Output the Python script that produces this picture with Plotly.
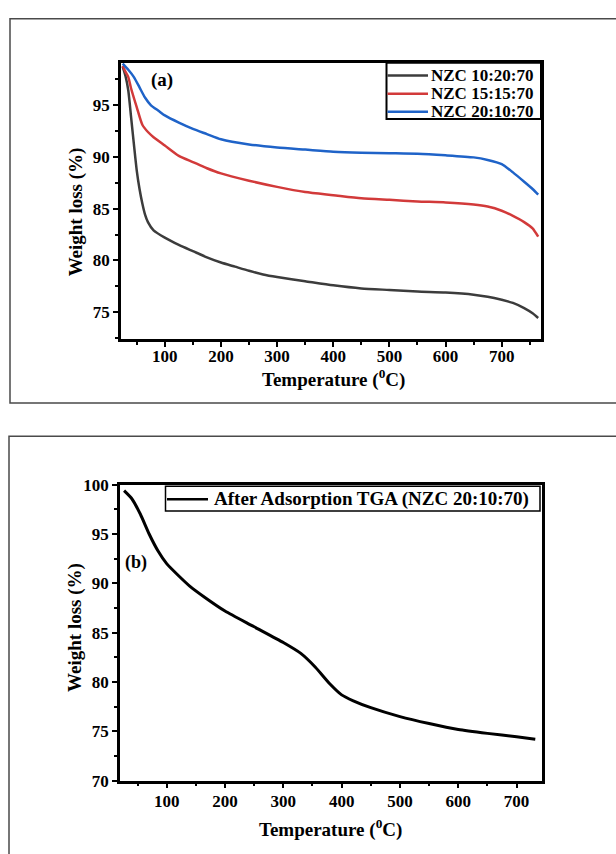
import plotly.graph_objects as go

# ---------------- data ----------------
# (a) TGA of the as-prepared composites
temp_1020 = [25, 30, 35, 40, 45, 50, 55, 60, 65, 70, 80, 100, 125, 150, 175, 200, 225, 250,
             275, 300, 350, 400, 450, 500, 550, 600, 650, 675, 700, 720, 740, 755, 765]
wl_1020 = [98.7, 97.8, 96.4, 93.8, 91.2, 88.7, 86.9, 85.5, 84.4, 83.7, 82.9, 82.2, 81.5, 80.9,
           80.3, 79.8, 79.4, 79.0, 78.65, 78.4, 78.0, 77.6, 77.3, 77.15, 77.0, 76.9, 76.7, 76.5,
           76.2, 75.9, 75.4, 74.9, 74.45]

temp_1515 = [25, 30, 35, 40, 50, 60, 70, 80, 100, 125, 150, 175, 200, 250, 300, 350, 400, 450,
             500, 550, 600, 650, 675, 700, 720, 740, 755, 765]
wl_1515 = [98.8, 98.2, 97.7, 96.6, 94.8, 93.1, 92.4, 91.9, 91.1, 90.1, 89.5, 88.9, 88.4, 87.7,
           87.1, 86.6, 86.3, 86.0, 85.85, 85.7, 85.6, 85.4, 85.2, 84.8, 84.3, 83.7, 83.1, 82.3]

temp_2010 = [25, 35, 45, 55, 65, 75, 90, 100, 125, 150, 175, 200, 250, 300, 350, 400, 450, 500,
             550, 600, 650, 675, 700, 720, 740, 755, 765]
wl_2010 = [99.0, 98.4, 97.7, 96.7, 95.7, 95.0, 94.4, 94.0, 93.3, 92.7, 92.2, 91.7, 91.2, 90.9,
           90.7, 90.5, 90.4, 90.35, 90.3, 90.15, 89.95, 89.7, 89.3, 88.5, 87.6, 86.9, 86.35]

labels_a = ["NZC 10:20:70", "NZC 15:15:70", "NZC 20:10:70"]
colors_a = ["#3c3c3c", "#d23a3a", "#1f63c8"]

# (b) TGA after adsorption, NZC 20:10:70
temp_after = [27, 40, 55, 70, 85, 100, 120, 140, 165, 200, 250, 300, 330, 355, 380, 400, 420,
              450, 500, 550, 600, 650, 700, 732]
wl_after = [99.4, 98.6, 97.0, 95.0, 93.3, 92.0, 90.8, 89.7, 88.6, 87.2, 85.6, 84.0, 82.9, 81.5,
            79.8, 78.7, 78.1, 77.4, 76.5, 75.8, 75.2, 74.8, 74.45, 74.2]
label_b = "After Adsorption TGA (NZC 20:10:70)"

x_title = "Temperature (<sup>0</sup>C)"
y_title = "Weight loss (%)"

# ---------------- layout helpers ----------------
W, H = 616, 854
FONT = "Liberation Serif, Times New Roman, serif"


def fx(p):
    return p / W


def fy(p):
    return 1 - p / H


fig = go.Figure()

series_a = [(temp_1020, wl_1020), (temp_1515, wl_1515), (temp_2010, wl_2010)]
for (t, w), name, c in zip(series_a, labels_a, colors_a):
    fig.add_trace(go.Scatter(x=t, y=w, mode="lines", name=name, showlegend=False,
                             line=dict(color=c, width=2.5, shape="spline", smoothing=0.6),
                             xaxis="x", yaxis="y"))

fig.add_trace(go.Scatter(x=temp_after, y=wl_after, mode="lines", name=label_b, showlegend=False,
                         line=dict(color="#000000", width=3, shape="spline", smoothing=0.6),
                         xaxis="x2", yaxis="y2"))

tickfont = dict(family=FONT, size=17, color="black", weight="bold")
axis_common = dict(showline=True, mirror=True, linecolor="black", linewidth=2.5,
                   ticks="outside", ticklen=5, tickwidth=2, tickcolor="black",
                   showgrid=False, zeroline=False, tickfont=tickfont)
minor_x = dict(ticks="outside", ticklen=3, tickwidth=1.5, tickcolor="black")
minor_y = dict(ticks="outside", ticklen=3, tickwidth=1.5, tickcolor="black",
               tickvals=[72.5, 77.5, 82.5, 87.5, 92.5, 97.5])

fig.update_layout(
    width=W, height=H,
    margin=dict(l=0, r=0, t=0, b=0),
    paper_bgcolor="white", plot_bgcolor="white",
    xaxis=dict(domain=[fx(121), fx(541)], anchor="y", range=[22, 770],
               tickvals=[100, 200, 300, 400, 500, 600, 700], ticklabelstandoff=-5,
               minor=dict(tickvals=[50, 150, 250, 350, 450, 550, 650, 750], **minor_x),
               **axis_common),
    yaxis=dict(domain=[fy(337.7), fy(55)], anchor="x", range=[72.4, 99.08],
               tickvals=[75, 80, 85, 90, 95], minor=minor_y, **axis_common),
    xaxis2=dict(domain=[fx(120), fx(541.7)], anchor="y2", range=[20, 743],
                tickvals=[100, 200, 300, 400, 500, 600, 700], ticklabelstandoff=-2,
                minor=dict(tickvals=[50, 150, 250, 350, 450, 550, 650], **minor_x),
                **axis_common),
    yaxis2=dict(domain=[fy(789.3), fy(486.5)], anchor="x2", range=[70, 100],
                tickvals=[70, 75, 80, 85, 90, 95, 100], minor=minor_y, **axis_common),
)

shapes = []
annotations = []

# outer frames around each panel
shapes.append(dict(type="rect", xref="paper", yref="paper",
                   x0=fx(10), x1=fx(640), y0=fy(403), y1=fy(10),
                   line=dict(color="#4a4a4a", width=1.5), layer="below"))
shapes.append(dict(type="rect", xref="paper", yref="paper",
                   x0=fx(9), x1=fx(640), y0=fy(880), y1=fy(437),
                   line=dict(color="#4a4a4a", width=1.5), layer="below"))

# legend of panel (a)
shapes.append(dict(type="rect", xref="paper", yref="paper",
                   x0=fx(386.5), x1=fx(541), y0=fy(112.5), y1=fy(55),
                   fillcolor="white", line=dict(color="black", width=2)))
for i, (name, c) in enumerate(zip(labels_a, colors_a)):
    yy = 68 + i * 18.6
    shapes.append(dict(type="line", xref="paper", yref="paper",
                       x0=fx(387.5), x1=fx(428), y0=fy(yy), y1=fy(yy),
                       line=dict(color=c, width=2.5)))
    annotations.append(dict(text=name, xref="paper", yref="paper", x=fx(429), y=fy(yy),
                            xanchor="left", yanchor="middle", showarrow=False,
                            font=dict(family=FONT, size=17, color="black", weight="bold")))

# legend of panel (b)
shapes.append(dict(type="rect", xref="paper", yref="paper",
                   x0=fx(165.5), x1=fx(540), y0=fy(513.5), y1=fy(488),
                   fillcolor="white", line=dict(color="black", width=1.5)))
shapes.append(dict(type="line", xref="paper", yref="paper",
                   x0=fx(167), x1=fx(208), y0=fy(501.5), y1=fy(501.5),
                   line=dict(color="black", width=2.5)))
annotations.append(dict(text=label_b, xref="paper", yref="paper", x=fx(212), y=fy(501.5),
                        xanchor="left", yanchor="middle", showarrow=False,
                        font=dict(family=FONT, size=19, color="black", weight="bold")))

# panel tags
annotations.append(dict(text="(a)", xref="paper", yref="paper", x=fx(162), y=fy(72.5),
                        xanchor="center", yanchor="middle", showarrow=False,
                        font=dict(family=FONT, size=19, color="black", weight="bold")))
annotations.append(dict(text="(b)", xref="paper", yref="paper", x=fx(136), y=fy(566),
                        xanchor="center", yanchor="middle", showarrow=False,
                        font=dict(family=FONT, size=18, color="black", weight="bold")))

# axis titles
title_font = dict(family=FONT, size=19, color="black", weight="bold")
for (xc, yc) in [(333, 378), (330, 838)]:
    annotations.append(dict(text=x_title, xref="paper", yref="paper", x=fx(xc), y=fy(yc),
                            xanchor="center", yanchor="middle", showarrow=False, font=title_font))
for (xc, yc) in [(76, 208), (75, 633)]:
    annotations.append(dict(text=y_title, xref="paper", yref="paper", x=fx(xc), y=fy(yc),
                            xanchor="center", yanchor="middle", showarrow=False,
                            textangle=-90, font=title_font))

fig.update_layout(shapes=shapes, annotations=annotations)

fig.write_html("out.html")
